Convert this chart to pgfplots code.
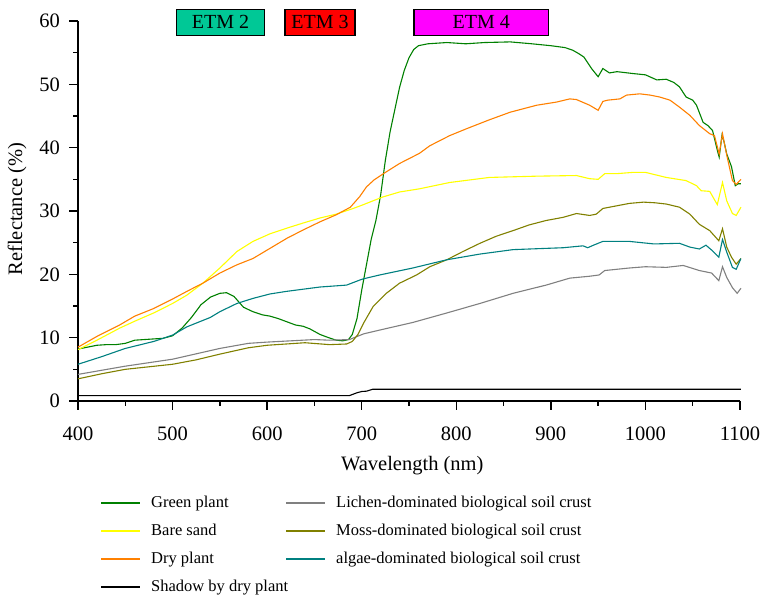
\documentclass[border=0pt]{standalone}
\usepackage{pgfplots}
\pgfplotsset{compat=1.18}
\usepackage{fontspec}
\setmainfont{Liberation Serif}
\definecolor{cgreen}{RGB}{0,128,0}
\definecolor{cyellow}{RGB}{255,255,0}
\definecolor{corange}{RGB}{255,128,0}
\definecolor{cgray}{RGB}{128,128,128}
\definecolor{colive}{RGB}{128,128,0}
\definecolor{cteal}{RGB}{0,128,128}
\definecolor{etmtwo}{RGB}{0,200,150}
\definecolor{etmthree}{RGB}{255,0,0}
\definecolor{etmfour}{RGB}{255,0,255}
\begin{document}
\begin{tikzpicture}
\path[use as bounding box] (0,0) rectangle (764pt,600pt);
\begin{axis}[
  at={(78pt,199pt)}, anchor=south west,
  scale only axis, width=662pt, height=380pt,
  xmin=400, xmax=1100, ymin=0, ymax=60,
  axis x line=bottom, axis y line=left,
  axis line style={-, line width=1.3pt},
  xtick={400,500,...,1100}, ytick={0,10,...,60},
  minor x tick num=0, minor y tick num=0,
  tick align=outside, major tick length=0pt, minor tick length=0pt,
  clip=false,
  /pgf/number format/1000 sep={},
  /pgf/number format/assume math mode=true,
  tick label style={font=\fontsize{20.5}{24}\selectfont, inner sep=0pt},
  xticklabel style={anchor=base, yshift=-39pt},
  yticklabel style={anchor=east, xshift=-18pt},
  every axis x label/.style={at={(axis description cs:0.505,-0.1816)}, anchor=base, font=\fontsize{20.5}{24}\selectfont},
  every axis y label/.style={at={(axis description cs:-0.092,0.505)}, anchor=center, rotate=90, font=\fontsize{20.5}{24}\selectfont},
  xlabel={Wavelength (nm)},
  ylabel={Reflectance (\%)},
  legend style={at={(axis description cs:0.0332,-0.2474)}, anchor=north west, draw=none, fill=none,
    inner sep=0pt, column sep=0pt, row sep=12pt,
    font=\fontsize{16.5}{19}\selectfont,
    nodes={inner sep=0pt, text height=12pt, text depth=4pt},
    /tikz/every odd column/.append style={column sep=10pt}},
  legend cell align=left,
  legend columns=2,
  legend image code/.code={\draw[#1, line width=2pt] (0pt,0pt) -- (39pt,0pt);},
  every axis plot/.append style={line width=1.1pt},
]
% Green plant
\addplot[cgreen] coordinates {
(400,8.2)(410,8.5)(420,8.8)(430,8.9)(440,8.9)(450,9.1)(460,9.6)(470,9.7)(480,9.8)(490,9.9)
(500,10.3)(510,11.5)(520,13.2)(530,15.2)(540,16.4)(550,17.0)(557,17.1)(565,16.5)(575,14.8)(585,14.1)
(595,13.6)(603,13.4)(612,13.0)(621,12.5)(630,12.0)(638,11.8)(645,11.4)(656,10.5)(665,10.0)(673,9.6)
(680,9.5)(686,9.7)(690,10.5)(695,13)(700,17.5)(705,21.5)(710,25.5)(715,28.5)(720,32.5)(725,38)
(730,42.5)(735,46)(740,49.5)(745,52.2)(750,54.2)(755,55.5)(760,56.1)(770,56.4)(790,56.6)(810,56.4)
(830,56.6)(857,56.7)(880,56.4)(900,56.1)(915,55.8)(923,55.4)(930,54.8)(935,54.3)(943,52.5)(950,51.2)
(955,52.5)(962,51.8)(970,52.0)(987,51.7)(1000,51.5)(1012,50.7)(1022,50.8)(1030,50.3)(1036,49.6)(1043,48.0)
(1050,47.5)(1054,46.7)(1061,44.0)(1066,43.5)(1071,42.7)(1076,39.6)(1078,38.5)(1081,42.0)(1083,41)(1086,39)
(1091,37)(1095,34)(1098,34.3)(1101,34.3)};
\addlegendentry{\makebox[134pt][l]{Green plant}}
% Lichen
\addplot[cgray] coordinates {
(400,4.2)(450,5.5)(500,6.6)(550,8.3)(580,9.1)(600,9.3)(650,9.7)(666,9.6)(687,9.7)(702,10.6)
(719,11.2)(754,12.4)(790,13.9)(825,15.4)(860,17.0)(895,18.3)(920,19.4)(941,19.7)(951,19.9)(957,20.6)
(983,21.0)(1000,21.2)(1022,21.1)(1040,21.4)(1057,20.6)(1070,20.2)(1077.6,19.0)(1081.5,21.2)(1086,19.5)(1092,17.9)
(1097,17.0)(1101,17.8)};
\addlegendentry{Lichen-dominated biological soil crust}
% Bare sand
\addplot[cyellow] coordinates {
(400,8.1)(420,9.6)(444,11.5)(460,12.6)(480,13.9)(500,15.4)(515,16.7)(532,18.6)(550,21)(568,23.6)
(585,25.2)(603,26.4)(621,27.3)(638,28.1)(656,28.9)(673,29.5)(691,30.4)(700,30.9)(722,32.2)(740,33)
(761,33.5)(793,34.5)(835,35.3)(885,35.5)(927,35.6)(941,35.1)(950,35.0)(957,35.9)(970,35.9)(987,36.1)
(1000,36.1)(1022,35.3)(1043,34.8)(1054,34.0)(1059,33.2)(1068,33.1)(1076,31.0)(1081.5,34.5)(1086,31.6)(1092,29.6)
(1096,29.3)(1101,30.6)};
\addlegendentry{\makebox[134pt][l]{Bare sand}}
% Moss
\addplot[colive] coordinates {
(400,3.5)(425,4.3)(450,5.0)(475,5.4)(500,5.8)(525,6.5)(550,7.4)(580,8.4)(600,8.8)(620,9.0)
(640,9.2)(666,8.9)(684,9.0)(690,9.4)(696,10.5)(702,12.3)(712,14.9)(726,17.0)(740,18.6)(758,19.9)
(772,21.2)(790,22.3)(807,23.6)(825,24.9)(842,26.0)(860,26.9)(877,27.8)(895,28.5)(913,29.0)(927,29.6)
(941,29.3)(948,29.5)(955,30.4)(983,31.2)(998,31.4)(1010,31.3)(1022,31.1)(1036,30.6)(1047,29.5)(1057,27.9)
(1068,26.9)(1077.6,25.3)(1081.5,27.2)(1086,24.3)(1091,22.7)(1096,21.6)(1101,22.5)};
\addlegendentry{Moss-dominated biological soil crust}
% Dry plant
\addplot[corange] coordinates {
(400,8.5)(420,10.2)(444,12.0)(460,13.4)(480,14.6)(500,16.1)(515,17.3)(532,18.6)(550,20.2)(568,21.5)
(585,22.5)(603,24.1)(621,25.7)(638,27)(656,28.3)(673,29.4)(688,30.6)(698,32.3)(705,33.8)(713,34.9)
(723,35.9)(740,37.5)(761,39.1)(772,40.3)(793,41.9)(811,43.0)(835,44.4)(857,45.6)(885,46.7)(906,47.2)
(920,47.7)(927,47.6)(941,46.7)(950,45.9)(955,47.3)(960,47.5)(973,47.7)(980,48.3)(994,48.5)(1005,48.3)
(1015,48.0)(1026,47.5)(1036,46.4)(1047,45.1)(1057,43.5)(1068,42.2)(1073,41.9)(1078,39.0)(1081.5,42.2)(1086,38.8)
(1092,34.8)(1096,34.2)(1101,35.0)};
\addlegendentry{\makebox[134pt][l]{Dry plant}}
% algae
\addplot[cteal] coordinates {
(400,5.8)(425,7.0)(450,8.3)(480,9.4)(500,10.4)(515,11.7)(540,13.2)(550,14.1)(568,15.4)(585,16.2)
(603,16.9)(620,17.3)(656,18.0)(684,18.3)(698,19.1)(702,19.3)(719,19.9)(754,21.0)(790,22.3)(825,23.2)
(860,23.9)(895,24.1)(913,24.2)(934,24.5)(939,24.2)(945,24.6)(955,25.2)(983,25.2)(1009,24.8)(1036,24.9)
(1047,24.3)(1057,24.0)(1064,24.6)(1071,23.7)(1077.6,22.7)(1081.5,25.5)(1086,23.5)(1092,21.1)(1096,20.8)(1101,22.5)};
\addlegendentry{algae-dominated biological soil crust}
% Shadow
\addplot[black] coordinates {
(400,0.85)(687,0.85)(695,1.3)(700,1.5)(705,1.55)(711.5,1.85)(1101,1.85)};
\addlegendentry{\makebox[134pt][l]{Shadow by dry plant}}
% axis ticks (decoration)
\pgfplotsinvokeforeach{400,500,600,700,800,900,1000,1100}{\draw[line width=1.3pt] (axis cs:#1,0) -- ++(0pt,-9pt);}
\pgfplotsinvokeforeach{450,550,650,750,850,950,1050}{\draw[line width=1.3pt] (axis cs:#1,0) -- ++(0pt,-5pt);}
\pgfplotsinvokeforeach{0,10,20,30,40,50,60}{\draw[line width=1.3pt] (axis cs:400,#1) -- ++(-9pt,0pt);}
\pgfplotsinvokeforeach{5,15,25,35,45,55}{\draw[line width=1.3pt] (axis cs:400,#1) -- ++(-5pt,0pt);}
% ETM band boxes
\draw[line width=1.2pt, fill=etmtwo] (axis cs:504.4,57.75) rectangle (axis cs:597,61.85);
\node[font=\fontsize{20}{24}\selectfont, inner sep=0pt] at (axis cs:550.7,59.8) {ETM 2};
\draw[line width=1.2pt, fill=etmthree] (axis cs:618.9,57.75) rectangle (axis cs:692.9,61.85);
\node[font=\fontsize{20}{24}\selectfont, inner sep=0pt] at (axis cs:655.9,59.8) {ETM 3};
\draw[line width=1.2pt, fill=etmfour] (axis cs:755.3,57.75) rectangle (axis cs:897.7,61.85);
\node[font=\fontsize{20}{24}\selectfont, inner sep=0pt] at (axis cs:826.5,59.8) {ETM 4};
\end{axis}
\end{tikzpicture}
\end{document}
